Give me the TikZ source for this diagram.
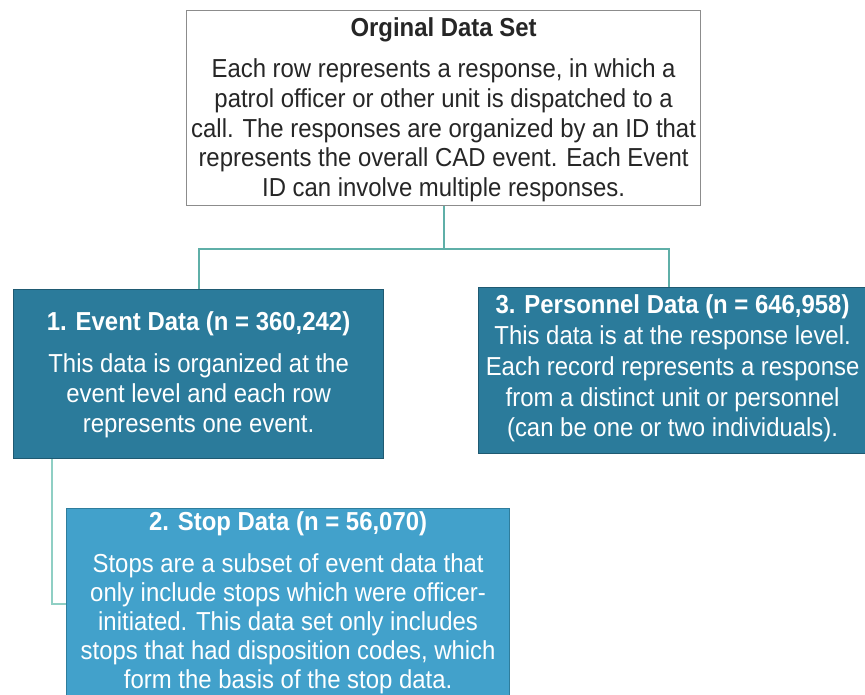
\documentclass[tikz,border=0pt]{standalone}
\usepackage{fontspec}
\setmainfont{Liberation Sans}[FakeStretch=0.92]
\begin{document}
\begin{tikzpicture}[x=1pt,y=-1pt,
  box/.style={draw, line width=1.2pt, inner sep=0pt, anchor=north west},
  topbox/.style={box, draw=black!45, fill=white},
  eventbox/.style={box, draw=evborder, fill=evfill},
  stopbox/.style={box, draw=stborder, fill=stfill},
  txt/.style={align=center, inner sep=0pt, anchor=north, font=\fontsize{26}{30}\selectfont},
  conn/.style={draw=conncol, line width=2pt},
  conn2/.style={draw=conncol2, line width=2pt}]
\definecolor{evfill}{HTML}{2B7B9B}
\definecolor{evborder}{HTML}{1F5A72}
\definecolor{stfill}{HTML}{42A1CB}
\definecolor{stborder}{HTML}{2F7D9C}
\definecolor{conncol}{HTML}{5FAFA8}
\definecolor{conncol2}{HTML}{8FCFC4}
\definecolor{txtgray}{HTML}{262626}
\useasboundingbox (0,0) rectangle (865,695);

\node[topbox, minimum width=514pt, minimum height=195pt] (top) at (186,10) {};
\node[eventbox, minimum width=370pt, minimum height=169pt] (event) at (13,289) {};
\node[eventbox, minimum width=388pt, minimum height=166pt] (pers) at (478,287) {};
\node[stopbox, minimum width=443pt, minimum height=200pt] (stop) at (66,508) {};

\coordinate (split) at ([yshift=-43pt]top.south);
\draw[conn] (top.south) -- (split) -| (event.north);
\draw[conn] (split) -| ([xshift=-4pt]pers.north);
\draw[conn2] ([xshift=39pt]event.south west) |- ([yshift=-96pt]stop.north west);

\node[txt, text=txtgray, font=\fontsize{26}{29.7}\selectfont] (toptxt) at ([yshift=-7pt]top.north) {\textbf{Orginal Data Set}\\[12pt]
Each row represents a response, in which a\\
patrol officer or other unit is dispatched to a\\
call. The responses are organized by an ID that\\
represents the overall CAD event. Each Event\\
ID can involve multiple responses.};

\node[txt, text=white] (eventtxt) at ([yshift=-22pt]event.north) {\textbf{1. Event Data (n = 360,242)}\\[12pt]
This data is organized at the\\
event level and each row\\
represents one event.};

\node[txt, text=white, font=\fontsize{26}{30.7}\selectfont] (perstxt) at ([yshift=-7pt]pers.north) {\textbf{3. Personnel Data (n = 646,958)}\\[1pt]
This data is at the response level.\\
Each record represents a response\\
from a distinct unit or personnel\\
(can be one or two individuals).};

\node[txt, text=white, font=\fontsize{26}{28.8}\selectfont] (stoptxt) at ([yshift=-3pt]stop.north) {\textbf{2. Stop Data (n = 56,070)}\\[14pt]
Stops are a subset of event data that\\
only include stops which were officer-\\
initiated. This data set only includes\\
stops that had disposition codes, which\\
form the basis of the stop data.};
\end{tikzpicture}
\end{document}
